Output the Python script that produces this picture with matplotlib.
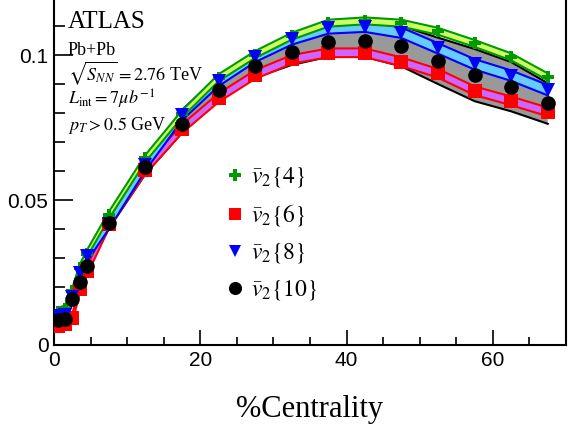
import matplotlib
matplotlib.use('Agg')
import matplotlib.pyplot as plt
from matplotlib.ticker import MultipleLocator

plt.rcParams['mathtext.fontset'] = 'stix'

# centrality bins and v2 values
cent = [0.5, 1.5, 2.5, 3.5, 4.5, 7.5, 12.5, 17.5, 22.5, 27.5, 32.5, 37.5, 42.5, 47.5, 52.5, 57.5, 62.5, 67.5]
v2_4 = [0.0115, 0.0125, 0.0185, 0.0265, 0.0315, 0.0448, 0.0644, 0.0797, 0.0922, 0.1002, 0.1065, 0.1110, 0.1118, 0.1110, 0.1082, 0.1040, 0.0994, 0.0925]
v2_6 = [0.0065, 0.0072, 0.0092, 0.0193, 0.0255, 0.0418, 0.0605, 0.0746, 0.0853, 0.0933, 0.0985, 0.1008, 0.1008, 0.0977, 0.0937, 0.0877, 0.0842, 0.0804]
v2_8 = [0.0100, 0.0105, 0.0165, 0.0250, 0.0307, 0.0418, 0.0620, 0.0793, 0.0911, 0.0994, 0.1054, 0.1092, 0.1098, 0.1077, 0.1023, 0.0968, 0.0929, 0.0879]
v2_10 = [0.0085, 0.0090, 0.0158, 0.0216, 0.0272, 0.0422, 0.0615, 0.0762, 0.0879, 0.0962, 0.1011, 0.1044, 0.1049, 0.1031, 0.0980, 0.0931, 0.0891, 0.0833]

# systematic band half-widths
sys_4 = [0.0012] * 18
sys_6 = [0.0015] * 18
sys_8 = [0.0018] * 18
sys_10 = [0.0015, 0.0015, 0.0015, 0.002, 0.002, 0.002, 0.0025, 0.003, 0.0035, 0.004, 0.0045, 0.005, 0.0055, 0.007, 0.008, 0.009, 0.0085, 0.007]

fig = plt.figure(figsize=(5.79, 4.32), dpi=100)
ax = fig.add_axes([0.0933, 0.2014, 0.8843, 0.7986])


def band(y, err, face, edge, z):
    lo = [a - b for a, b in zip(y, err)]
    hi = [a + b for a, b in zip(y, err)]
    ax.fill_between(cent, lo, hi, facecolor=face, edgecolor='none', zorder=z)
    ax.plot(cent, lo, color=edge, lw=1.5, zorder=z)
    ax.plot(cent, hi, color=edge, lw=1.5, zorder=z)


band(v2_10, sys_10, '#999999', 'black', 1)
band(v2_6, sys_6, '#cc66ff', '#ff0000', 2)
band(v2_8, sys_8, '#66ccff', '#0000ff', 3)
band(v2_4, sys_4, '#ccff66', '#009900', 4)

ax.plot(cent, v2_4, 'P', color='#009900', ms=9, mew=0, ls='none', zorder=5, label=r'$\bar{v}_2\{4\}$')
ax.plot(cent, v2_6, 's', color='#ff0000', ms=9.5, mew=0, ls='none', zorder=6, label=r'$\bar{v}_2\{6\}$')
ax.plot(cent, v2_8, 'v', color='#0000ff', ms=10, mew=0, ls='none', zorder=7, label=r'$\bar{v}_2\{8\}$')
ax.plot(cent, v2_10, 'o', color='black', ms=10.5, mew=0, ls='none', zorder=8, label=r'$\bar{v}_2\{10\}$')

ax.set_xlim(0, 70)
ax.set_ylim(0, 0.119)
ax.spines['top'].set_visible(False)
for s in ['left', 'bottom', 'right']:
    ax.spines[s].set_linewidth(1.5)
ax.xaxis.set_major_locator(MultipleLocator(20))
ax.xaxis.set_minor_locator(MultipleLocator(5))
ax.yaxis.set_major_locator(MultipleLocator(0.05))
ax.yaxis.set_minor_locator(MultipleLocator(0.01))
ax.yaxis.set_major_formatter(matplotlib.ticker.FuncFormatter(lambda v, p: '0' if v == 0 else ('%g' % v)))
ax.tick_params(axis='both', which='both', direction='in', top=False, right=False, width=1.2)
ax.tick_params(axis='y', which='major', length=14, pad=4)
ax.tick_params(axis='y', which='minor', length=8)
ax.tick_params(axis='x', which='major', length=11, pad=4)
ax.tick_params(axis='x', which='minor', length=6)
for lbl in ax.get_xticklabels() + ax.get_yticklabels():
    lbl.set_fontfamily('Liberation Sans')
    lbl.set_fontsize(15)

ax.set_xlabel('%Centrality', family='Liberation Serif', fontsize=22, labelpad=18)

ax.text(0.027, 0.92, 'ATLAS', transform=ax.transAxes, family='Liberation Serif',
        fontsize=18, va='baseline')
info = ['Pb+Pb', r'$\sqrt{S_{NN}} = 2.76$ TeV', r'$L_{\rm int} = 7\mu b^{-1}$', r'$p_T > 0.5$ GeV']
for i, t in enumerate(info):
    ax.text(0.027, 0.84 - i * 0.072, t, transform=ax.transAxes, family='Liberation Serif',
            fontsize=13, va='baseline')

ax.legend(loc='upper left', bbox_to_anchor=(0.285, 0.582), frameon=False,
          prop={'family': 'Liberation Serif', 'size': 17}, handletextpad=0.05,
          labelspacing=0.55, handlelength=1.2, markerscale=0.9)

fig.savefig('out.png', dpi=100)
